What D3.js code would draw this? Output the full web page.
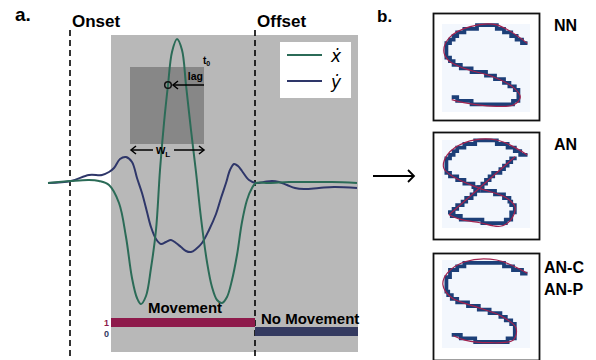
<!DOCTYPE html>
<html>
<head>
<meta charset="utf-8">
<script src="https://cdn.jsdelivr.net/npm/d3@7"></script>
<style>
  body { margin: 0; background: #fff; }
  svg { display: block; font-family: 'Liberation Sans', Arial, sans-serif; }
</style>
</head>
<body>
<svg id="chart"></svg>
<script>
// time (arbitrary units) and velocity values
const xdotT = [1, 24, 42, 52, 62, 72, 79, 85, 90, 94, 99, 104, 109, 113, 117, 121, 125, 130, 135, 139, 144, 149, 154, 160, 165, 170, 175, 180, 185, 190, 195, 200, 205, 209, 222, 242, 262, 285, 310];
const xdotV = [0, 0.02, 0.03, 0.02, -0.02, -0.2, -0.54, -0.95, -1.15, -1.21, -1.13, -0.85, -0.47, 0.13, 0.6, 0.98, 1.31, 1.44, 1.33, 0.98, 0.53, 0.11, -0.35, -0.79, -1.04, -1.17, -1.2, -1.14, -0.97, -0.72, -0.39, -0.17, -0.05, 0, 0, 0.01, 0.01, 0.01, 0];

const ydotT = [1, 24, 42, 55, 62, 67, 73, 79, 85, 90, 95, 100, 104, 109, 114, 119, 124, 129, 134, 139, 144, 149, 155, 162, 169, 174, 179, 183, 187, 191, 195, 202, 209, 217, 225, 232, 240, 248, 257, 272, 287, 310];
const ydotV = [0, 0.02, 0.08, 0.08, 0.11, 0.15, 0.24, 0.26, 0.21, 0.05, -0.1, -0.29, -0.44, -0.56, -0.61, -0.59, -0.57, -0.6, -0.64, -0.68, -0.69, -0.66, -0.6, -0.47, -0.31, -0.15, 0, 0.13, 0.19, 0.17, 0.12, 0.03, 0, 0.01, 0.02, 0.01, -0.02, -0.05, -0.06, -0.05, -0.04, -0.05];

const onsetT = 23;
const offsetT = 208;
const shadeRange = [64, 310];
const windowT = [83, 157];     // w_L
const windowV = [0.39, 1.16];
const t0Point = { t: 121, v: 0.98 };

const stateLabels = ['Movement', 'No Movement'];
const stateSpans = [[64, 208], [208, 310]];
const stateValues = [1, 0];

const seriesNames = ['\u1E8B', '\u1E8F'];

// panel b: normalized S-shapes (0..1 inside each thumbnail)
const shapeNN = [[0.97, 0.22], [0.62, 0.01], [0.32, 0.03], [0.09, 0.15], [0.02, 0.30], [0.07, 0.41], [0.24, 0.50], [0.58, 0.60], [0.81, 0.72], [0.89, 0.83], [0.81, 0.92], [0.51, 0.93], [0.28, 0.90], [0.11, 0.86]];
const shapeAN = [[0.97, 0.17], [0.62, 0.0], [0.26, 0.03], [0.06, 0.17], [0.02, 0.32], [0.15, 0.43], [0.43, 0.55], [0.72, 0.65], [0.83, 0.76], [0.78, 0.91], [0.66, 0.98], [0.43, 0.94], [0.2, 0.9], [0.08, 0.85]];
const shapeANdiag = [[0.08, 0.85], [0.83, 0.19]];
const shapeANC = [[0.97, 0.15], [0.62, 0.0], [0.26, 0.02], [0.06, 0.15], [0.01, 0.28], [0.11, 0.43], [0.38, 0.53], [0.66, 0.63], [0.84, 0.77], [0.81, 0.91], [0.55, 0.94], [0.26, 0.91], [0.13, 0.86]];
const thumbLabels = [['NN'], ['AN'], ['AN-C', 'AN-P']];

const green = '#2b6b57';
const navy = '#2e3669';
const magenta = '#8e1a4b';
const barNavy = '#343a60';

const svg = d3.select('#chart').attr('width', 596).attr('height', 360);
svg.append('rect').attr('width', 596).attr('height', 360).attr('fill', '#fff');

const x = d3.scaleLinear().domain([0, 310]).range([47, 357]);
const y = d3.scaleLinear().domain([-1.5, 1.5]).range([333, 33]);

// shaded area
svg.append('rect')
  .attr('x', x(shadeRange[0]))
  .attr('y', 35)
  .attr('width', x(shadeRange[1]) - x(shadeRange[0]) + 1)
  .attr('height', 317)
  .attr('fill', '#b8b8b8');

// window w_L
svg.append('rect')
  .attr('x', x(windowT[0]))
  .attr('y', y(windowV[1]))
  .attr('width', x(windowT[1]) - x(windowT[0]))
  .attr('height', y(windowV[0]) - y(windowV[1]))
  .attr('fill', '#878787');

// onset / offset dashed lines
[onsetT, offsetT].forEach((t, i) => {
  svg.append('line')
    .attr('x1', x(t)).attr('x2', x(t))
    .attr('y1', 30).attr('y2', 360)
    .attr('stroke', '#000')
    .attr('stroke-width', 1.6)
    .attr('stroke-dasharray', '6,4');
  svg.append('text')
    .attr('x', x(t) + 2).attr('y', 27)
    .attr('font-size', 17).attr('font-weight', 'bold')
    .text(i === 0 ? 'Onset' : 'Offset');
});

svg.append('text').attr('x', 15).attr('y', 21)
  .attr('font-size', 19).attr('font-weight', 'bold').text('a.');

// movement state bars
const stateY = d3.scaleBand().domain(stateValues).range([318, 336]);
stateSpans.forEach((s, i) => {
  svg.append('rect')
    .attr('x', x(s[0]))
    .attr('y', stateY(stateValues[i]))
    .attr('width', x(s[1]) - x(s[0]) + (i === 1 ? 1 : 0))
    .attr('height', stateY.bandwidth())
    .attr('fill', i === 0 ? magenta : barNavy);
});
svg.append('text').attr('x', x(shadeRange[0]) - 2).attr('y', stateY(1) + 8)
  .attr('text-anchor', 'end').attr('font-size', 9).attr('font-weight', 'bold')
  .attr('fill', magenta).text('1');
svg.append('text').attr('x', x(shadeRange[0]) - 2).attr('y', stateY(0) + 10)
  .attr('text-anchor', 'end').attr('font-size', 9).attr('font-weight', 'bold')
  .attr('fill', barNavy).text('0');
svg.append('text').attr('x', (x(stateSpans[0][0]) + x(stateSpans[0][1])) / 2 + 2).attr('y', 313)
  .attr('text-anchor', 'middle').attr('font-size', 15).attr('font-weight', 'bold')
  .text(stateLabels[0]);
svg.append('text').attr('x', x(stateSpans[1][0]) + 6).attr('y', 324)
  .attr('font-size', 15).attr('font-weight', 'bold')
  .text(stateLabels[1]);

// velocity curves
const line = d3.line()
  .x(d => x(d[0]))
  .y(d => y(d[1]))
  .curve(d3.curveCatmullRom.alpha(0.5));

svg.append('path')
  .datum(d3.zip(ydotT, ydotV))
  .attr('fill', 'none').attr('stroke', navy).attr('stroke-width', 2)
  .attr('d', line);
svg.append('path')
  .datum(d3.zip(xdotT, xdotV))
  .attr('fill', 'none').attr('stroke', green).attr('stroke-width', 2)
  .attr('d', line);

// t0 point, lag arrow, window arrows
const arrowHead = (g, px, py, dir) => {
  g.append('path')
    .attr('d', `M${px + dir * 5},${py - 4} L${px},${py} L${px + dir * 5},${py + 4}`)
    .attr('fill', 'none').attr('stroke', '#000').attr('stroke-width', 1.5);
};
const cx = x(t0Point.t), cy = y(t0Point.v);
svg.append('circle').attr('cx', cx).attr('cy', cy).attr('r', 3.3)
  .attr('fill', 'none').attr('stroke', '#111').attr('stroke-width', 1.5);
const ann = svg.append('g');
ann.append('line').attr('x1', cx + 5).attr('x2', x(windowT[1])).attr('y1', cy).attr('y2', cy)
  .attr('stroke', '#000').attr('stroke-width', 1.5);
arrowHead(ann, cx + 5, cy, 1);
ann.append('text').attr('x', x(windowT[1]) - 1).attr('y', cy - 5)
  .attr('text-anchor', 'end').attr('font-size', 10.5).attr('font-weight', 'bold').text('lag');
const t0 = ann.append('text').attr('x', x(windowT[1]) - 1).attr('y', y(windowV[1]) - 3)
  .attr('font-size', 10).attr('font-weight', 'bold');
t0.append('tspan').text('t');
t0.append('tspan').attr('font-size', 7).attr('dy', 2).text('0');

const wy = y(windowV[0]) + 6;
const wl = ann.append('text').attr('x', (x(windowT[0]) + x(windowT[1])) / 2 - 4).attr('y', wy + 4)
  .attr('text-anchor', 'middle').attr('font-size', 12).attr('font-weight', 'bold');
wl.append('tspan').text('w');
wl.append('tspan').attr('font-size', 8).attr('dy', 3).text('L');
ann.append('line').attr('x1', x(windowT[0]) + 1).attr('x2', x(windowT[0]) + 23).attr('y1', wy).attr('y2', wy)
  .attr('stroke', '#000').attr('stroke-width', 1.5);
ann.append('line').attr('x1', x(windowT[0]) + 44).attr('x2', x(windowT[1])).attr('y1', wy).attr('y2', wy)
  .attr('stroke', '#000').attr('stroke-width', 1.5);
arrowHead(ann, x(windowT[0]) + 1, wy, 1);
arrowHead(ann, x(windowT[1]), wy, -1);

// legend
const leg = svg.append('g').attr('transform', 'translate(280,42)');
leg.append('rect').attr('width', 71).attr('height', 56).attr('fill', '#fff');
seriesNames.forEach((name, i) => {
  leg.append('line').attr('x1', 7).attr('x2', 42).attr('y1', 13 + i * 26).attr('y2', 13 + i * 26)
    .attr('stroke', i === 0 ? green : navy).attr('stroke-width', 2);
  leg.append('text').attr('x', 51).attr('y', 20 + i * 26)
    .attr('font-size', 17).attr('font-style', 'italic').attr('font-family', 'DejaVu Sans, sans-serif')
    .text(name);
});

// panel b
svg.append('text').attr('x', 377).attr('y', 22)
  .attr('font-size', 17).attr('font-weight', 'bold').text('b.');
const arr = svg.append('g');
arr.append('line').attr('x1', 373).attr('x2', 414).attr('y1', 176).attr('y2', 176)
  .attr('stroke', '#000').attr('stroke-width', 1.8);
arr.append('path').attr('d', 'M408,170 L414,176 L408,182')
  .attr('fill', 'none').attr('stroke', '#000').attr('stroke-width', 1.8);

const thumbs = [
  { top: 13, inner: 24, strokes: [shapeNN] },
  { top: 132, inner: 140, strokes: [shapeAN, shapeANdiag] },
  { top: 253, inner: 260, strokes: [shapeANC] }
];
const smooth = d3.line().curve(d3.curveCatmullRom.alpha(0.5));
const cell = 3.6;
const shrink = 0.955;

thumbs.forEach((tb, i) => {
  const g = svg.append('g');
  g.append('rect').attr('x', 433.5).attr('y', tb.top + 0.5).attr('width', 106).attr('height', 107)
    .attr('fill', '#fff').attr('stroke', '#111').attr('stroke-width', 1.8);
  g.append('rect').attr('x', 442).attr('y', tb.inner).attr('width', 88).attr('height', 88)
    .attr('fill', '#f3f7fd');
  const sx = d3.scaleLinear().domain([0, 1]).range([442, 530]);
  const sy = d3.scaleLinear().domain([0, 1]).range([tb.inner, tb.inner + 88]);
  const navyLayer = g.append('g');
  tb.strokes.forEach((pts, k) => {
    const lineGen = k === 0 ? smooth : d3.line();
    const p = pts.map(d => [sx(d[0]), sy(d[1])]);
    g.append('path').attr('d', lineGen(p)).attr('fill', 'none')
      .attr('stroke', '#a3234f').attr('stroke-width', 1.2);
    // pixelated trace: the same stroke pulled slightly inward, snapped to a grid
    const inner = pts.map(d => [sx(0.5 + (d[0] - 0.5) * shrink), sy(0.5 + (d[1] - 0.5) * shrink)]);
    const tmp = navyLayer.append('path').attr('d', lineGen(inner)).attr('fill', 'none');
    const node = tmp.node();
    const len = node.getTotalLength();
    const snapped = [];
    for (let s = 0; s <= len; s += 1) {
      const pt = node.getPointAtLength(s);
      const q = [Math.round(pt.x / cell) * cell, Math.round(pt.y / cell) * cell];
      const last = snapped[snapped.length - 1];
      if (!last || last[0] !== q[0] || last[1] !== q[1]) snapped.push(q);
    }
    tmp.attr('d', d3.line().curve(d3.curveStep)(snapped))
      .attr('stroke', '#1c3f78').attr('stroke-width', 3.8)
      .attr('stroke-linejoin', 'miter').attr('stroke-linecap', 'square');
  });
  const lines = thumbLabels[i];
  lines.forEach((lab, j) => {
    g.append('text')
      .attr('x', lines.length > 1 ? 544 : 554)
      .attr('y', tb.top + (lines.length > 1 ? 20 + j * 22 : 18))
      .attr('font-size', 16).attr('font-weight', 'bold').text(lab);
  });
});
</script>
</body>
</html>
